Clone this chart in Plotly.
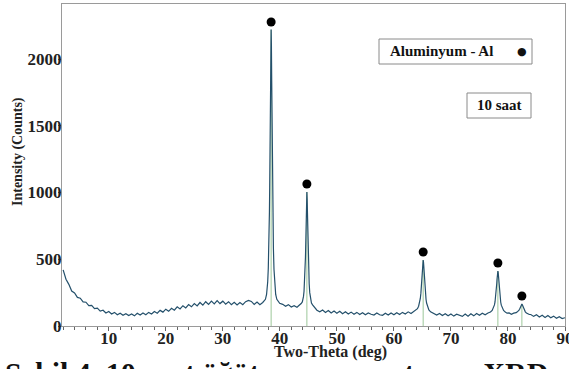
import plotly.graph_objects as go

# ---------------- data ----------------
bg1_theta = [2.0, 2.5, 3.0, 3.5, 4.0, 4.5, 5.0, 5.5, 6.0, 6.5, 7.0, 7.5, 8.0, 8.5, 9.0, 9.5,
             10.0, 10.5, 11.0, 11.5, 12.0, 12.5, 13.0, 13.5, 14.0, 14.5, 15.0, 15.5, 16.0, 16.5,
             17.0, 17.5, 18.0, 18.5, 19.0, 19.5, 20.0, 20.5, 21.0, 21.5, 22.0, 22.5, 23.0, 23.5,
             24.0, 24.5, 25.0, 25.5, 26.0, 26.5, 27.0, 27.5, 28.0, 28.5, 29.0, 29.5, 30.0, 30.5,
             31.0, 31.5, 32.0, 32.5, 33.0, 33.5, 34.0, 34.5, 35.0, 35.5, 36.0, 36.5, 37.0]
bg1_counts = [420, 350, 312, 262, 248, 214, 208, 180, 178, 152, 154, 130, 134, 112, 118, 98,
              108, 90, 102, 84, 96, 80, 92, 78, 90, 76, 95, 82, 97, 84,
              102, 90, 108, 96, 117, 104, 126, 110, 133, 118, 144, 128, 152, 135,
              160, 144, 168, 150, 176, 156, 182, 162, 186, 166, 190, 168, 186, 164,
              182, 160, 178, 158, 176, 160, 182, 192, 184, 162, 180, 160, 176]

pk1_theta = [37.27, 37.47, 37.67, 37.77, 37.87, 37.97, 38.07, 38.17, 38.22, 38.27, 38.32, 38.37,
             38.42, 38.47, 38.52, 38.57, 38.62, 38.67, 38.72, 38.77, 38.87, 38.97, 39.07, 39.17,
             39.27, 39.47, 39.67, 39.97]
pk1_counts = [188, 200, 236, 272, 332, 430, 590, 850, 1040, 1280, 1560, 1860,
              2110, 2220, 2100, 1840, 1540, 1260, 1020, 840, 580, 425, 330, 270,
              236, 200, 184, 170]

bg2_theta = [40.5, 41.0, 41.5, 42.0, 42.5, 43.0]
bg2_counts = [162, 148, 160, 142, 152, 140]

pk2_theta = [43.24, 43.54, 43.74, 43.94, 44.04, 44.14, 44.24, 44.34, 44.44, 44.49, 44.54, 44.59,
             44.64, 44.69, 44.74, 44.79, 44.84, 44.89, 44.94, 44.99, 45.04, 45.14, 45.24, 45.34,
             45.44, 45.54, 45.74, 45.94, 46.24]
pk2_counts = [150, 158, 168, 180, 194, 220, 260, 330, 430, 515, 610, 730,
              855, 955, 1004, 950, 850, 725, 605, 505, 425, 318, 250, 212,
              186, 172, 158, 146, 136]

bg3_theta = [46.5, 47.0, 47.5, 48.0, 48.5, 49.0, 49.5, 50.0, 50.5, 51.0, 51.5, 52.0, 52.5, 53.0,
             53.5, 54.0, 54.5, 55.0, 55.5, 56.0, 56.5, 57.0, 57.5, 58.0, 58.5, 59.0, 59.5, 60.0,
             60.5, 61.0, 61.5, 62.0, 62.5, 63.0, 63.5]
bg3_counts = [118, 106, 120, 102, 116, 98, 112, 96, 110, 92, 106, 90, 104, 88,
              102, 86, 100, 84, 98, 88, 82, 98, 84, 80, 96, 82, 98, 84,
              100, 86, 102, 90, 106, 94, 110]

pk3_theta = [63.83, 64.13, 64.33, 64.53, 64.63, 64.73, 64.83, 64.93, 64.98, 65.03, 65.08, 65.13,
             65.18, 65.23, 65.28, 65.33, 65.43, 65.53, 65.63, 65.73, 65.93, 66.13, 66.43, 66.73]
pk3_counts = [118, 130, 148, 180, 206, 246, 300, 375, 418, 456, 485, 494,
              483, 452, 414, 370, 296, 240, 200, 172, 138, 120, 106, 98]

bg4_theta = [67.0, 67.5, 68.0, 68.5, 69.0, 69.5, 70.0, 70.5, 71.0, 71.5, 72.0, 72.5, 73.0,
             73.5, 74.0, 74.5, 75.0, 75.5, 76.0, 76.5]
bg4_counts = [96, 82, 94, 78, 92, 76, 90, 74, 88, 78, 72, 90, 74,
              92, 76, 94, 80, 96, 84, 98]

pk4_theta = [76.93, 77.23, 77.43, 77.63, 77.73, 77.83, 77.93, 78.03, 78.08, 78.13, 78.18, 78.23,
             78.28, 78.33, 78.38, 78.43, 78.53, 78.63, 78.73, 78.83, 79.03, 79.23, 79.53, 79.83]
pk4_counts = [105, 117, 132, 158, 180, 212, 256, 316, 350, 380, 404, 412,
              402, 378, 348, 314, 254, 210, 178, 156, 130, 116, 104, 96]

bg5_theta = [80.2, 80.6, 81.0]
bg5_counts = [98, 88, 96]

pk5_theta = [81.14, 81.44, 81.64, 81.84, 81.94, 82.04, 82.14, 82.24, 82.34, 82.44, 82.54, 82.64,
             82.74, 82.84, 82.94, 83.04, 83.24, 83.44, 83.74]
pk5_counts = [96, 100, 106, 112, 118, 126, 136, 148, 160, 165, 158, 146,
              133, 122, 112, 106, 98, 92, 86]

bg6_theta = [84.0, 84.5, 85.0, 85.5, 86.0, 86.5, 87.0, 87.5, 88.0, 88.5, 89.0, 89.5, 90.0]
bg6_counts = [86, 72, 84, 68, 80, 64, 78, 62, 74, 58, 70, 56, 62]

peak_positions = [38.47, 44.74, 65.13, 78.23, 82.44]
peak_tops = [2220, 1004, 494, 412, 165]
marker_counts = [2277, 1064, 554, 472, 225]

x_ticks = [10, 20, 30, 40, 50, 60, 70, 80, 90]
y_ticks = [0, 500, 1000, 1500, 2000]

# ---------------- assemble ----------------
theta = (bg1_theta + pk1_theta + bg2_theta + pk2_theta + bg3_theta + pk3_theta +
         bg4_theta + pk4_theta + bg5_theta + pk5_theta + bg6_theta)
counts = (bg1_counts + pk1_counts + bg2_counts + pk2_counts + bg3_counts + pk3_counts +
          bg4_counts + pk4_counts + bg5_counts + pk5_counts + bg6_counts)

stick_x, stick_y = [], []
for p, t in zip(peak_positions, peak_tops):
    stick_x += [p, p, None]
    stick_y += [0, t, None]

W, H = 569, 369
L, R, T, B = 62, 4, 4, 43
PW, PH = W - L - R, H - T - B


def px(xp):
    return (xp - L) / PW


def py(yp):
    return (H - B - yp) / PH


FONT = "Liberation Serif, Times New Roman, serif"

fig = go.Figure()
fig.add_trace(go.Scatter(x=stick_x, y=stick_y, mode="lines",
                         line=dict(color="#9cc79a", width=1), hoverinfo="skip", showlegend=False))
fig.add_trace(go.Scatter(x=theta, y=counts, mode="lines",
                         line=dict(color="#24506b", width=1.2), showlegend=False))
fig.add_trace(go.Scatter(x=peak_positions, y=marker_counts, mode="markers",
                         marker=dict(color="black", size=9), showlegend=False))

fig.update_layout(
    width=W, height=H,
    margin=dict(l=L, r=R, t=T, b=B, autoexpand=False),
    paper_bgcolor="white", plot_bgcolor="white",
    font=dict(family=FONT, color="black"),
    xaxis=dict(range=[1.8, 90], tickvals=x_ticks, ticks="outside", ticklen=4, tickcolor="#666",
               showline=True, linecolor="#9a9a9a", linewidth=1, mirror=True, automargin=False,
               showgrid=False, zeroline=False, ticklabelstandoff=-7, ticklabeloverflow="allow",
               tickfont=dict(family=FONT, size=17, weight="bold", color="#222"),
               minor=dict(dtick=2, tick0=0, ticks="outside", ticklen=3, tickcolor="#666", showgrid=False)),
    yaxis=dict(range=[0, 2412], tickvals=y_ticks, ticks="outside", ticklen=3, tickcolor="#666",
               showline=True, linecolor="#9a9a9a", linewidth=1, mirror=True, automargin=False,
               showgrid=False, zeroline=False, ticklabelstandoff=-7, ticklabeloverflow="allow",
               tickfont=dict(family=FONT, size=17, weight="bold", color="#222")),
    shapes=[
        dict(type="rect", xref="paper", yref="paper", x0=px(379), x1=px(532), y0=py(64), y1=py(39),
             line=dict(color="#8a8a8a", width=1), fillcolor="white", layer="above"),
        dict(type="rect", xref="paper", yref="paper", x0=px(467), x1=px(531), y0=py(118), y1=py(93),
             line=dict(color="#8a8a8a", width=1), fillcolor="white", layer="above"),
    ],
    annotations=[
        dict(text="Aluminyum - Al", xref="paper", yref="paper", x=px(441), y=py(51.5),
             xanchor="center", yanchor="middle", showarrow=False,
             font=dict(family=FONT, size=15, weight="bold", color="#111")),
        dict(text="●", xref="paper", yref="paper", x=px(522), y=py(51.5),
             xanchor="center", yanchor="middle", showarrow=False,
             font=dict(family="DejaVu Sans", size=11, color="#111")),
        dict(text="10 saat", xref="paper", yref="paper", x=px(499), y=py(105.5),
             xanchor="center", yanchor="middle", showarrow=False,
             font=dict(family=FONT, size=15, weight="bold", color="#111")),
        dict(text="Two-Theta (deg)", xref="paper", yref="paper", x=px(330), y=py(352),
             xanchor="center", yanchor="middle", showarrow=False,
             font=dict(family=FONT, size=16, weight="bold", color="#222")),
        dict(text="Intensity (Counts)", xref="paper", yref="paper", x=px(18), y=py(152),
             xanchor="center", yanchor="middle", showarrow=False, textangle=-90,
             font=dict(family=FONT, size=14, weight="bold", color="#222")),
        dict(text="Şekil 4. 10 saat öğütme sonrası tozun XRD", xref="paper", yref="paper",
             x=px(3), y=py(354), xanchor="left", yanchor="top", showarrow=False,
             font=dict(family=FONT, size=30, weight="bold", color="#111")),
    ],
)

fig.write_html("out.html", config={"displayModeBar": False},
               post_script="document.body.style.margin='0px';document.body.style.overflow='hidden';")
